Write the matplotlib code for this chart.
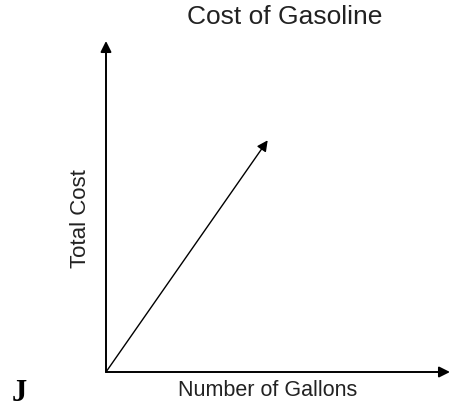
import matplotlib.pyplot as plt

# line from origin (gallons, cost), in axis units 0-10
gallons = [0, 4.7]
cost = [0, 7.0]
x_max = 10
y_max = 10

fig = plt.figure(figsize=(4.53, 4.10), dpi=100)
ax = fig.add_axes([106 / 453, 37 / 410, 344 / 453, 331 / 410])
ax.set_xlim(0, x_max)
ax.set_ylim(0, y_max)
ax.axis('off')

axis_arrow = dict(arrowstyle='-|>', color='black', lw=1.4,
                  mutation_scale=16, shrinkA=0, shrinkB=0)
ax.annotate('', xy=(0, y_max), xytext=(0, 0), arrowprops=axis_arrow, annotation_clip=False)
ax.annotate('', xy=(x_max, 0), xytext=(0, 0), arrowprops=axis_arrow, annotation_clip=False)

line_arrow = dict(arrowstyle='-|>', color='black', lw=1.0,
                  mutation_scale=16, shrinkA=0, shrinkB=0)
ax.annotate('', xy=(gallons[1], cost[1]), xytext=(gallons[0], cost[0]),
            arrowprops=line_arrow)

fig.text(285 / 453, 1 - 17 / 410, 'Cost of Gasoline', ha='center', va='center',
         fontsize=19, family='Liberation Sans', color='#222222')
fig.text(268 / 453, 1 - 391 / 410, 'Number of Gallons', ha='center', va='center',
         fontsize=15.5, family='Liberation Sans', color='#222222')
fig.text(81 / 453, 1 - 219 / 410, 'Total Cost', ha='center', va='center',
         rotation=90, fontsize=16, family='Liberation Sans', color='#222222')
fig.text(19 / 453, 1 - 394 / 410, 'J', ha='center', va='center',
         fontsize=22, fontweight='bold', family='Liberation Serif')

fig.savefig('out.png', dpi=100)
